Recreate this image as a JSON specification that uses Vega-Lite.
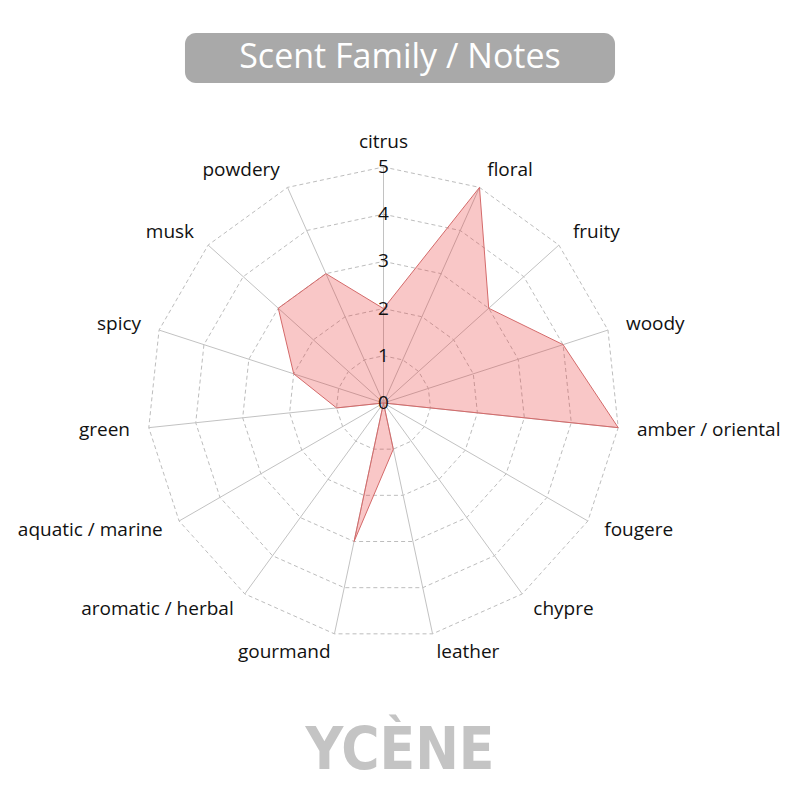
{
  "$schema": "https://vega.github.io/schema/vega-lite/v6.json",
  "width": 800,
  "height": 800,
  "autosize": "none",
  "padding": 0,
  "background": "white",
  "datasets": {
    "notes": [
      {"note": "citrus", "value": 2},
      {"note": "floral", "value": 5},
      {"note": "fruity", "value": 3},
      {"note": "woody", "value": 4},
      {"note": "amber / oriental", "value": 5},
      {"note": "fougere", "value": 0},
      {"note": "chypre", "value": 0},
      {"note": "leather", "value": 1},
      {"note": "gourmand", "value": 3},
      {"note": "aromatic / herbal", "value": 0},
      {"note": "aquatic / marine", "value": 0},
      {"note": "green", "value": 1},
      {"note": "spicy", "value": 2},
      {"note": "musk", "value": 3},
      {"note": "powdery", "value": 3}
    ],
    "ticks": [
      {"t": 0}, {"t": 1}, {"t": 2}, {"t": 3}, {"t": 4}, {"t": 5}
    ],
    "heading": [
      {"title": "Scent Family / Notes", "brand": "YCÈNE"}
    ]
  },
  "layer": [
    {
      "data": {"name": "notes"},
      "transform": [
        {"window": [{"op": "row_number", "as": "idx"}]},
        {"calculate": "(datum.idx - 1) * 2 * PI / 15", "as": "angle"},
        {"calculate": "datum.value * sin(datum.angle)", "as": "px"},
        {"calculate": "datum.value * cos(datum.angle)", "as": "py"},
        {"calculate": "5 * sin(datum.angle)", "as": "sx"},
        {"calculate": "5 * cos(datum.angle)", "as": "sy"},
        {"calculate": "5.4 * sin(datum.angle)", "as": "lx"},
        {"calculate": "5.4 * cos(datum.angle)", "as": "ly"}
      ],
      "layer": [
        {
          "transform": [
            {"calculate": "[1, 2, 3, 4, 5]", "as": "level"},
            {"flatten": ["level"]},
            {"calculate": "datum.level * sin(datum.angle)", "as": "gx"},
            {"calculate": "datum.level * cos(datum.angle)", "as": "gy"}
          ],
          "mark": {"type": "line", "interpolate": "linear-closed", "color": "#bdbdbd", "strokeWidth": 1, "strokeDash": [4, 3]},
          "encoding": {
            "x": {"field": "gx", "type": "quantitative", "axis": null, "scale": {"domain": [-8.125, 8.824], "nice": false, "zero": false}},
            "y": {"field": "gy", "type": "quantitative", "axis": null, "scale": {"domain": [-8.411, 8.538], "nice": false, "zero": false}},
            "detail": {"field": "level", "type": "nominal"},
            "order": {"field": "idx", "type": "quantitative"}
          }
        },
        {
          "mark": {"type": "rule", "color": "#c2c2c2", "strokeWidth": 1},
          "encoding": {
            "x": {"field": "sx", "type": "quantitative", "axis": null, "scale": {"domain": [-8.125, 8.824], "nice": false, "zero": false}},
            "y": {"field": "sy", "type": "quantitative", "axis": null, "scale": {"domain": [-8.411, 8.538], "nice": false, "zero": false}},
            "x2": {"datum": 0},
            "y2": {"datum": 0}
          }
        },
        {
          "mark": {"type": "line", "interpolate": "linear-closed", "stroke": "#d46a6a", "strokeWidth": 1, "fill": "#e83030", "fillOpacity": 0.27},
          "encoding": {
            "x": {"field": "px", "type": "quantitative", "axis": null, "scale": {"domain": [-8.125, 8.824], "nice": false, "zero": false}},
            "y": {"field": "py", "type": "quantitative", "axis": null, "scale": {"domain": [-8.411, 8.538], "nice": false, "zero": false}},
            "order": {"field": "idx", "type": "quantitative"}
          }
        },
        {
          "transform": [{"filter": "abs(datum.lx) < 0.05"}],
          "mark": {"type": "text", "font": "Open Sans", "fontSize": 19, "color": "#111111", "align": "center", "baseline": "alphabetic"},
          "encoding": {
            "x": {"field": "lx", "type": "quantitative", "axis": null, "scale": {"domain": [-8.125, 8.824], "nice": false, "zero": false}},
            "y": {"field": "ly", "type": "quantitative", "axis": null, "scale": {"domain": [-8.411, 8.538], "nice": false, "zero": false}},
            "text": {"field": "note", "type": "nominal"}
          }
        },
        {
          "transform": [{"filter": "datum.lx >= 0.05"}],
          "mark": {"type": "text", "font": "Open Sans", "fontSize": 19, "color": "#111111", "align": "left", "baseline": "middle"},
          "encoding": {
            "x": {"field": "lx", "type": "quantitative", "axis": null, "scale": {"domain": [-8.125, 8.824], "nice": false, "zero": false}},
            "y": {"field": "ly", "type": "quantitative", "axis": null, "scale": {"domain": [-8.411, 8.538], "nice": false, "zero": false}},
            "text": {"field": "note", "type": "nominal"}
          }
        },
        {
          "transform": [{"filter": "datum.lx <= -0.05"}],
          "mark": {"type": "text", "font": "Open Sans", "fontSize": 19, "color": "#111111", "align": "right", "baseline": "middle"},
          "encoding": {
            "x": {"field": "lx", "type": "quantitative", "axis": null, "scale": {"domain": [-8.125, 8.824], "nice": false, "zero": false}},
            "y": {"field": "ly", "type": "quantitative", "axis": null, "scale": {"domain": [-8.411, 8.538], "nice": false, "zero": false}},
            "text": {"field": "note", "type": "nominal"}
          }
        }
      ]
    },
    {
      "data": {"name": "ticks"},
      "mark": {"type": "text", "font": "Open Sans", "fontSize": 19, "color": "#111111", "align": "center", "baseline": "middle"},
      "encoding": {
        "x": {"datum": 0, "type": "quantitative", "axis": null, "scale": {"domain": [-8.125, 8.824], "nice": false, "zero": false}},
        "y": {"field": "t", "type": "quantitative", "axis": null, "scale": {"domain": [-8.411, 8.538], "nice": false, "zero": false}},
        "text": {"field": "t", "type": "quantitative"}
      }
    },
    {
      "data": {"name": "heading"},
      "mark": {"type": "rect", "color": "#a9a9a9", "cornerRadius": 11},
      "encoding": {
        "x": {"datum": -4.206, "type": "quantitative", "axis": null, "scale": {"domain": [-8.125, 8.824], "nice": false, "zero": false}},
        "x2": {"datum": 4.905},
        "y": {"datum": 7.839, "type": "quantitative", "axis": null, "scale": {"domain": [-8.411, 8.538], "nice": false, "zero": false}},
        "y2": {"datum": 6.78}
      }
    },
    {
      "data": {"name": "heading"},
      "mark": {"type": "text", "font": "Open Sans", "fontSize": 34, "color": "white", "align": "center", "baseline": "middle"},
      "encoding": {
        "x": {"datum": 0.349, "type": "quantitative", "axis": null, "scale": {"domain": [-8.125, 8.824], "nice": false, "zero": false}},
        "y": {"datum": 7.309, "type": "quantitative", "axis": null, "scale": {"domain": [-8.411, 8.538], "nice": false, "zero": false}},
        "text": {"field": "title", "type": "nominal"}
      }
    },
    {
      "data": {"name": "heading"},
      "mark": {"type": "text", "font": "DejaVu Sans Condensed", "fontSize": 58, "fontWeight": "bold", "color": "#c4c4c4", "align": "center", "baseline": "alphabetic"},
      "encoding": {
        "x": {"datum": 0.349, "type": "quantitative", "axis": null, "scale": {"domain": [-8.125, 8.824], "nice": false, "zero": false}},
        "y": {"datum": -7.75, "type": "quantitative", "axis": null, "scale": {"domain": [-8.411, 8.538], "nice": false, "zero": false}},
        "text": {"field": "brand", "type": "nominal"}
      }
    }
  ],
  "config": {
    "view": {"stroke": null}
  }
}
